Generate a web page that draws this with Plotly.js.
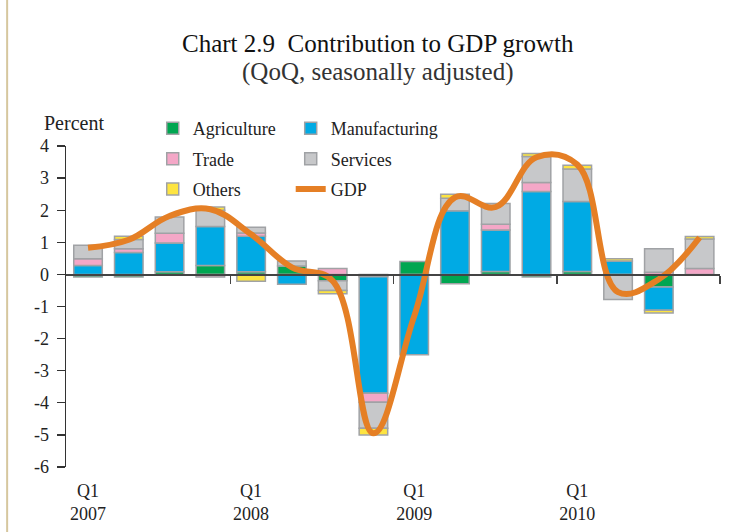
<!DOCTYPE html>
<html>
<head>
<meta charset="utf-8">
<script src="https://cdn.plot.ly/plotly-3.0.1.min.js"></script>
<style>body{margin:0;background:#fff}</style>
</head>
<body>
<div id="chart" style="width:738px;height:532px"></div>
<script>
const quarters = ['2007Q1','2007Q2','2007Q3','2007Q4','2008Q1','2008Q2','2008Q3','2008Q4',
                  '2009Q1','2009Q2','2009Q3','2009Q4','2010Q1','2010Q2','2010Q3','2010Q4'];
const agriculture   = [-0.08,-0.08, 0.08, 0.28, 0.08, 0.26,-0.20,-0.07, 0.40,-0.29, 0.09,-0.08, 0.09, null,-0.39, null];
const manufacturing = [ 0.28, 0.68, 0.90, 1.21, 1.11,-0.31, null,-3.63,-2.50, 1.98, 1.29, 2.58, 2.18, 0.42,-0.73, null];
const trade         = [ 0.21, 0.12, 0.30,-0.08, 0.10, null, 0.18,-0.28, null, null, 0.18, 0.28, null, null, 0.07, 0.18];
const services      = [ 0.42, 0.29, 0.51, 0.51, 0.18, 0.16,-0.30,-0.81, null, 0.39, 0.65, 0.81, 1.01,-0.78, 0.73, 0.92];
const others        = [ null, 0.10, null, 0.10,-0.21, null,-0.10,-0.21, null, 0.13, null, 0.10, 0.12, 0.07,-0.08, 0.08];
const gdp           = [ 0.83, 1.08, 1.82, 2.03, 1.25, 0.22,-0.20,-4.95,-1.30, 2.40, 2.10, 3.65, 3.42,-0.55,-0.15, 1.15];
const yTicks = [-6,-5,-4,-3,-2,-1,0,1,2,3,4];
const yTickText = ['-6','-5','-4','-3','-2','-1','0','1','2','3','4'];

const xIdx = quarters.map((q, i) => i);
const q1Idx = xIdx.filter(i => quarters[i].endsWith('Q1'));
const q1Text = q1Idx.map(i => 'Q1<br>' + quarters[i].slice(0, 4));
const yearBounds = q1Idx.filter(i => i > 0).map(i => i - 0.5).concat([quarters.length - 0.5]);

const FONT = 'Liberation Serif, Times New Roman, serif';
const outline = {color: '#a0a2a5', width: 1.5};
function barTrace(name, vals, color, legend) {
  return {type: 'bar', name: name, x: xIdx, y: vals, width: 0.7,
    marker: {color: color, line: outline}, legend: legend, legendgroup: name,
    hoverinfo: 'skip'};
}
const data = [
  barTrace('Agriculture', agriculture, '#00a651', 'legend'),
  barTrace('Manufacturing', manufacturing, '#00aae4', 'legend2'),
  barTrace('Trade', trade, '#f4a7c7', 'legend'),
  barTrace('Services', services, '#c7c8ca', 'legend2'),
  barTrace('Others', others, '#fde441', 'legend'),
  {type: 'scatter', mode: 'lines', name: 'GDP', x: xIdx, y: gdp, xaxis: 'x2', yaxis: 'y',
   line: {color: '#e57f25', width: 6, shape: 'spline', smoothing: 1.1},
   legend: 'legend2', legendgroup: 'GDP', hoverinfo: 'skip'}
];
const xr = [-0.54, 15.5];
const legendBase = {xanchor: 'left', yanchor: 'top', y: 1.112, bgcolor: 'rgba(0,0,0,0)',
  font: {family: FONT, size: 18, color: '#222'}, tracegroupgap: 4, traceorder: 'grouped'};
const layout = {
  width: 738, height: 532,
  margin: {l: 66, r: 18, t: 146, b: 65},
  paper_bgcolor: '#fff', plot_bgcolor: '#fff',
  barmode: 'relative',
  showlegend: true,
  legend: Object.assign({x: 0.1326}, legendBase),
  legend2: Object.assign({x: 0.3436}, legendBase),
  xaxis: {range: xr, tickvals: q1Idx, ticktext: q1Text, showline: false, ticks: '',
    showgrid: false, zeroline: false, ticklabelstandoff: 11,
    tickfont: {family: FONT, size: 18, color: '#222'}},
  xaxis2: {range: xr, overlaying: 'x', anchor: 'free', position: 0.6, showline: true,
    linecolor: '#444', linewidth: 1.3, ticks: 'outside', ticklen: 8, tickcolor: '#444',
    tickwidth: 1.3, tickvals: yearBounds, showticklabels: false, showgrid: false, zeroline: false},
  yaxis: {range: [-6, 4], tickvals: yTicks, ticktext: yTickText, showline: true,
    linecolor: '#333', linewidth: 1.3, ticks: 'outside', ticklen: 8, tickcolor: '#333',
    tickwidth: 1.3, showgrid: false, zeroline: false, ticklabelstandoff: 4,
    tickfont: {family: FONT, size: 18, color: '#222'}},
  annotations: [
    {text: 'Chart 2.9\u00a0 Contribution to GDP growth', xref: 'paper', yref: 'paper',
     x: 0.477, y: 1.318, xanchor: 'center', yanchor: 'middle', showarrow: false,
     font: {family: FONT, size: 25, color: '#111'}},
    {text: '(QoQ, seasonally adjusted)', xref: 'paper', yref: 'paper',
     x: 0.477, y: 1.23, xanchor: 'center', yanchor: 'middle', showarrow: false,
     font: {family: FONT, size: 25, color: '#333'}},
    {text: 'Percent', xref: 'paper', yref: 'paper', x: -0.037, y: 1.072,
     xanchor: 'left', yanchor: 'middle', showarrow: false,
     font: {family: FONT, size: 20, color: '#222'}}
  ],
  shapes: [
    {type: 'line', xref: 'paper', yref: 'paper', x0: -0.09, x1: -0.09, y0: -0.21, y1: 1.46,
     line: {color: '#d6c79e', width: 2}}
  ]
};
Plotly.newPlot('chart', data, layout, {displayModeBar: false, staticPlot: true});
</script>
</body>
</html>
